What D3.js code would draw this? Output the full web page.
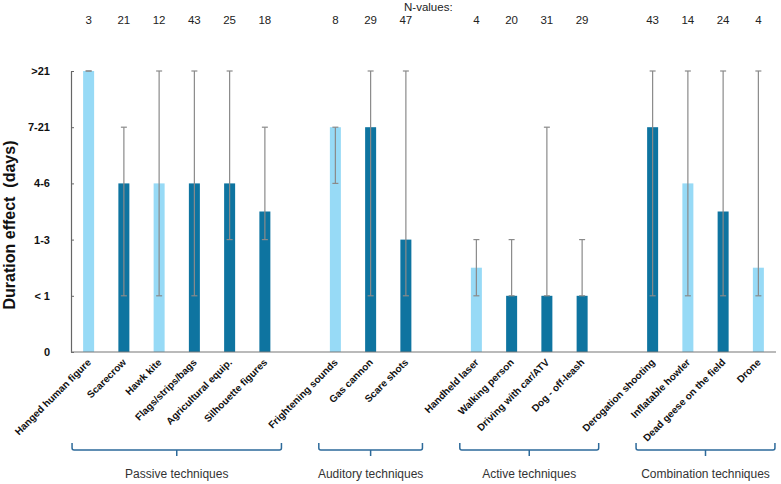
<!DOCTYPE html>
<html>
<head>
<meta charset="utf-8">
<script src="https://cdn.jsdelivr.net/npm/d3@7"></script>
<style>
  body { margin: 0; background: #fff; }
  svg { display: block; font-family: "Liberation Sans", Arial, sans-serif; }
</style>
</head>
<body>
<div id="chart"></div>
<script>
// chart data
const categories = ["Hanged human figure", "Scarecrow", "Hawk kite", "Flags/strips/bags", "Agricultural equip.", "Silhouette figures",
    "Frightening sounds", "Gas cannon", "Scare shots",
    "Handheld laser", "Walking person", "Driving with car/ATV", "Dog - off-leash",
    "Derogation shooting", "Inflatable howler", "Dead geese on the field", "Drone"];
const groupOf = [0, 0, 0, 0, 0, 0, 1, 1, 1, 2, 2, 2, 2, 3, 3, 3, 3];
const groupNames = ["Passive techniques", "Auditory techniques", "Active techniques", "Combination techniques"];
// 0 = "0", 1 = "< 1", 2 = "1-3", 3 = "4-6", 4 = "7-21", 5 = ">21"
const values  = [5, 3, 3, 3, 3, 2.5, 4, 4, 2, 1.5, 1, 1, 1, 4, 3, 2.5, 1.5];
const errLow  = [5, 1, 1, 1, 2, 2,   3, 1, 1, 1,   1, 1, 1, 1, 1, 1,   1];
const errHigh = [5, 4, 5, 5, 5, 4,   4, 5, 5, 2,   2, 4, 2, 5, 5, 5,   5];
const nValues = [3, 21, 12, 43, 25, 18, 8, 29, 47, 4, 20, 31, 29, 43, 14, 24, 4];
const light   = [true, false, true, false, false, false, true, false, false, true, false, false, false, false, true, false, true];
const yTickLabels = ["0", "< 1", "1-3", "4-6", "7-21", ">21"];

const W = 781, H = 484;
const plot = {left: 71, right: 776, top: 71, bottom: 352};

const svg = d3.select("#chart").append("svg")
    .attr("width", W)
    .attr("height", H);

// slots: categories plus an empty slot between groups
const slots = [];
categories.forEach((c, i) => {
    if (i > 0 && groupOf[i] !== groupOf[i - 1]) slots.push("gap" + i);
    slots.push(c);
});

const x = d3.scaleBand().domain(slots).range([plot.left, plot.right]).padding(0);
const y = d3.scaleLinear().domain([0, 5]).range([plot.bottom, plot.top]);
const barW = 11;
const cx = c => x(c) + x.bandwidth() / 2;

// Y axis
const yAxis = svg.append("g")
    .attr("transform", "translate(" + plot.left + ",0)")
    .call(d3.axisLeft(y).tickValues([0, 1, 2, 3, 4, 5]).tickSizeInner(-3).tickSizeOuter(0)
        .tickFormat(d => yTickLabels[d]));
yAxis.select(".domain").attr("stroke", "#666").attr("stroke-width", 1.2);
yAxis.selectAll(".tick line").attr("stroke", "#666");
yAxis.selectAll(".tick text")
    .attr("x", -21)
    .style("font-size", "11px")
    .style("font-weight", "bold")
    .attr("fill", "#111");

svg.append("text")
    .attr("transform", "translate(15," + 225 + ")rotate(-90)")
    .attr("text-anchor", "middle")
    .style("font-size", "16px")
    .style("font-weight", "bold")
    .attr("fill", "#111")
    .attr("xml:space", "preserve")
    .text("Duration effect  (days)");

// Bars
svg.selectAll("rect.bar")
    .data(categories)
    .enter()
    .append("rect")
    .attr("class", "bar")
    .attr("x", d => cx(d) - barW / 2)
    .attr("y", (d, i) => y(values[i]))
    .attr("width", barW)
    .attr("height", (d, i) => y(0) - y(values[i]))
    .attr("fill", (d, i) => light[i] ? "#97daf6" : "#0e74a0");

// X axis line
svg.append("line")
    .attr("x1", plot.left).attr("x2", plot.right)
    .attr("y1", plot.bottom).attr("y2", plot.bottom)
    .attr("stroke", "#777")
    .attr("stroke-width", 1.2);

// Error bars
const err = svg.append("g").attr("stroke", "#8a8a8a").attr("stroke-width", 1.2);
categories.forEach((c, i) => {
    const xc = cx(c);
    err.append("line").attr("x1", xc).attr("x2", xc).attr("y1", y(errLow[i])).attr("y2", y(errHigh[i]));
    [errLow[i], errHigh[i]].forEach(v => {
        err.append("line").attr("x1", xc - 3).attr("x2", xc + 3).attr("y1", y(v)).attr("y2", y(v));
    });
});

// X labels
svg.selectAll("text.xlabel")
    .data(categories)
    .enter()
    .append("text")
    .attr("class", "xlabel")
    .attr("transform", d => "translate(" + (cx(d) + 3) + "," + (plot.bottom + 11) + ")rotate(-45)")
    .attr("text-anchor", "end")
    .style("font-size", "10px")
    .style("font-weight", "bold")
    .attr("fill", "#111")
    .text(d => d);

// N-values
svg.append("text")
    .attr("x", 404).attr("y", 11)
    .style("font-size", "11.5px")
    .attr("fill", "#222")
    .text("N-values:");
svg.selectAll("text.nval")
    .data(categories)
    .enter()
    .append("text")
    .attr("class", "nval")
    .attr("x", d => cx(d))
    .attr("y", 24)
    .attr("text-anchor", "middle")
    .style("font-size", "11.5px")
    .attr("fill", "#222")
    .text((d, i) => nValues[i]);

// Group braces
groupNames.forEach((g, gi) => {
    const members = categories.filter((c, i) => groupOf[i] === gi);
    const x0 = cx(members[0]) - x.bandwidth() * 0.47;
    const x1 = cx(members[members.length - 1]) + x.bandwidth() * 0.47;
    const xm = (x0 + x1) / 2;
    const yt = 443, yb = 450;
    svg.append("path")
        .attr("d", `M${x0},${yt} L${x0},${yb - 2} Q${x0},${yb} ${x0 + 2},${yb} L${x1 - 2},${yb} Q${x1},${yb} ${x1},${yb - 2} L${x1},${yt}`
            + ` M${xm},${yb} L${xm},${yb + 6}`)
        .attr("fill", "none")
        .attr("stroke", "#2d6a9a")
        .attr("stroke-width", 1.5);
    svg.append("text")
        .attr("x", xm)
        .attr("y", 478)
        .attr("text-anchor", "middle")
        .style("font-size", "12px")
        .attr("fill", "#333")
        .text(g);
});
</script>
</body>
</html>
